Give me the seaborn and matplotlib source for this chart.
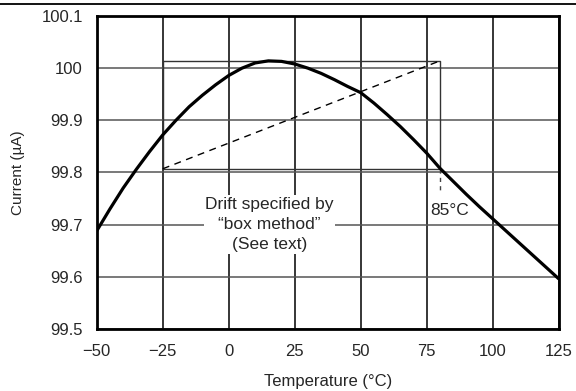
import matplotlib
matplotlib.use("Agg")
import matplotlib.pyplot as plt
import numpy as np
import pandas as pd
import seaborn as sns
from matplotlib.lines import Line2D

# 读取图中数据（温度 vs 电流）
temp = [-50, -45, -40, -35, -30, -25, -20, -15, -10, -5, 0, 5, 10, 15, 20,
        25, 30, 35, 40, 45, 50, 55, 60, 65, 70, 75, 80, 85, 90, 95, 100,
        105, 110, 115, 120, 125]
current = [99.688, 99.730, 99.770, 99.806, 99.840, 99.872, 99.900, 99.926,
           99.948, 99.968, 99.986, 100.000, 100.010, 100.014, 100.013,
           100.008, 100.000, 99.990, 99.978, 99.965, 99.953, 99.933,
           99.911, 99.888, 99.863, 99.837, 99.808, 99.783, 99.758, 99.734,
           99.711, 99.688, 99.665, 99.642, 99.619, 99.596]

# box method
box_x = [-25, 80]
box_y = [99.807, 100.014]

xticks = [-50, -25, 0, 25, 50, 75, 100, 125]
xticklabels = ["\u221250", "\u221225", "0", "25", "50", "75", "100", "125"]
yticks = [99.5, 99.6, 99.7, 99.8, 99.9, 100.0, 100.1]
yticklabels = ["99.5", "99.6", "99.7", "99.8", "99.9", "100", "100.1"]

df = pd.DataFrame({"Temperature": temp, "Current": current})

sns.set_style("white")
plt.rcParams['font.family'] = ['Liberation Sans', 'DejaVu Sans']

fig = plt.figure(figsize=(5.76, 3.91), dpi=100)
ax = fig.add_axes([0.168, 0.159, 0.802, 0.800])

# 网格
for xv in xticks:
    ax.axvline(xv, color="black", lw=1.1, zorder=1)
for yv in yticks:
    ax.axhline(yv, color="#555555", lw=1.1, zorder=1)

# 方框
bx = [box_x[0], box_x[1], box_x[1], box_x[0], box_x[0]]
by = [box_y[0], box_y[0], box_y[1], box_y[1], box_y[0]]
ax.plot(bx, by, color="#333333", lw=1.0, zorder=2)
ax.plot(box_x, box_y, color="black", lw=1.0, ls=(0, (5, 4)), zorder=2)
ax.plot([box_x[1], box_x[1]], [box_y[0], 99.758], color="#444444", lw=1.0,
        ls=(0, (3, 3)), zorder=2)

sns.lineplot(data=df, x="Temperature", y="Current", color="black", lw=2.3,
             ax=ax, zorder=3)

ax.text(15.5, 99.70, "Drift specified by\n\u201cbox method\u201d\n(See text)",
        ha="center", va="center", fontsize=12.5, linespacing=1.45,
        bbox=dict(facecolor="white", edgecolor="none", pad=1), zorder=4)
ax.text(76.5, 99.727, "85\u00b0C", ha="left", va="center", fontsize=12.5, zorder=4)

ax.set_xlim(-50, 125)
ax.set_ylim(99.5, 100.1)
ax.set_xticks(xticks)
ax.set_xticklabels(xticklabels)
ax.set_yticks(yticks)
ax.set_yticklabels(yticklabels)
ax.tick_params(length=0, labelsize=12, pad=11)
ax.tick_params(axis="y", pad=10)
ax.set_xlabel("Temperature (\u00b0C)", fontsize=12, labelpad=11)
ax.set_ylabel("Current (\u00b5A)", fontsize=11, labelpad=12)
for s in ax.spines.values():
    s.set_visible(True)
    s.set_color("black")
    s.set_linewidth(2.0)
    s.set_zorder(5)

# 顶部横线
fig.add_artist(Line2D([0, 1], [0.989, 0.989], color="black", lw=1.3,
                      transform=fig.transFigure))

fig.savefig("out.png", dpi=100)
